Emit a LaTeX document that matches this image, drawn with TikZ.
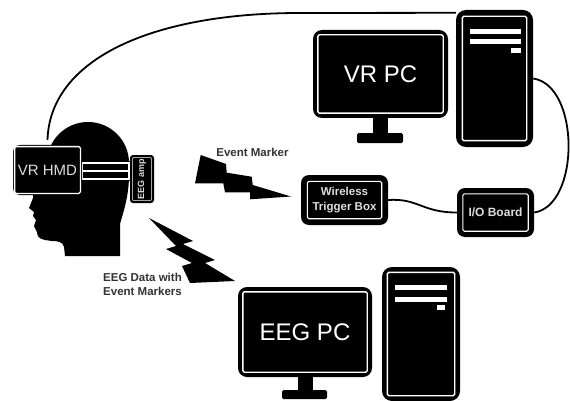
\documentclass[tikz,border=0pt]{standalone}
\usepackage{fontspec}
\setmainfont{Liberation Sans}
\usetikzlibrary{calc}
\definecolor{lbltext}{HTML}{333333}
\definecolor{boxtext}{HTML}{DDDDDD}
% white frame drawn inside a black node, #2 = inset
\newcommand\inframe[3][1.4pt]{%
  \draw[white, line width=#1, rounded corners=1.5pt]
    ($(#2.south west)+(#3,-#3)$) rectangle ($(#2.north east)+(-#3,#3)$);}
\begin{document}
\begin{tikzpicture}[x=1pt,y=-1pt,
  blk/.style={fill=black, draw=none, inner sep=0pt},
  screen/.style={blk, rounded corners=9pt, text=white,
    font=\fontsize{24}{24}\selectfont},
  tower/.style={blk, rounded corners=10pt},
  devbox/.style={blk, rounded corners=8pt, text=boxtext, align=center,
    font=\bfseries\fontsize{11.5}{14.5}\selectfont},
  lbl/.style={text=lbltext, inner sep=0pt,
    font=\bfseries\fontsize{11.5}{14}\selectfont},
  bar/.style={fill=white, draw=none},
  cable/.style={draw=black, line width=1.8pt}]
\useasboundingbox (0,0) rectangle (570,401);

% ---------- head ----------
\fill (88,163) circle[radius=41pt];
\fill (50,150) -- (128,158) -- (129,175)
  .. controls (129,195) and (124,210) .. (120,224) -- (120,256) -- (65,256)
  -- (64,247) .. controls (63,242) and (58,241) .. (52,241) -- (45,240)
  .. controls (39,239) and (37,236) .. (37,232) -- (34,226) -- (36,220)
  -- (33,216) -- (34,212) -- (29,208) -- (33,198) -- (33,160) -- cycle;

% head strap
\fill (80,161) rectangle (131,181);
\draw[white, line width=1.2pt] (82,163) rectangle (129,179);
\draw[white, line width=1.2pt] (82,171) -- (129,171);

% VR headset
\node[blk, rounded corners=7pt, minimum width=69pt, minimum height=50pt,
  text=boxtext, font=\fontsize{15}{15}\selectfont] (hmd) at (47.5,170) {VR HMD};
\inframe[1.3pt]{hmd}{1.8}

% EEG amplifier, label reads upwards
\node[blk, rounded corners=3pt, minimum width=24pt, minimum height=48pt,
  text=boxtext, font=\bfseries\fontsize{9}{9}\selectfont]
  (amp) at (142,179) {\rotatebox{90}{EEG amp}};
\draw[gray!70, line width=0.8pt, rounded corners=1pt]
  (132.5,157.5) rectangle (151.5,200.5);

% ---------- VR PC ----------
\node[screen, minimum width=135pt, minimum height=88pt] (vrmon) at (380.5,74) {VR PC};
\inframe{vrmon}{5}
\fill ($(vrmon.south)+(-7.5,-1)$) rectangle ++(15,16);
\fill[rounded corners=1.5pt] ($(vrmon.south)+(-23.5,15)$) rectangle ++(46,10);

\node[tower, minimum width=77pt, minimum height=137pt] (vrtower) at (494.5,78.5) {};
\inframe{vrtower}{6.5}
\fill[bar] (470,29) rectangle (521,34);
\fill[bar] (470,39) rectangle (521,44);
\fill[bar] (511,48) rectangle (521,53);

% ---------- EEG PC ----------
\node[screen, minimum width=134pt, minimum height=90pt] (eegmon) at (305,332) {EEG PC};
\inframe{eegmon}{5}
\fill ($(eegmon.south)+(-7.5,-1)$) rectangle ++(15,14);
\fill[rounded corners=1.5pt] ($(eegmon.south)+(-23,13)$) rectangle ++(45,9);

\node[tower, minimum width=78pt, minimum height=134pt] (eegtower) at (421,334) {};
\inframe{eegtower}{5.5}
\fill[bar] (395,285) rectangle (447,290);
\fill[bar] (395,297) rectangle (447,302);
\fill[bar] (437,305) rectangle (445,309.5);

% ---------- trigger box and I/O board ----------
\node[devbox, minimum width=87pt, minimum height=50pt] (trig) at (344.5,200)
  {Wireless\\Trigger Box};
\inframe[1.1pt]{trig}{6.5}

\node[devbox, minimum width=77pt, minimum height=49pt,
  font=\bfseries\fontsize{12}{12}\selectfont] (iob) at (495.5,212.5) {I/O Board};
\inframe[1.1pt]{iob}{6}

% ---------- cables ----------
\coordinate (hmdtop) at ($(hmd.north)+(0,-5)$);
\coordinate (vrtop) at ($(vrtower.north west)+(0,3)$);
\coordinate (bend) at (300,13);
\draw[cable] (hmdtop) .. controls (50,60) and (150,13) .. (bend) -- (vrtop);
\draw[cable] (vrtower.east) .. controls ++(47,7) and ++(46,-7) .. (iob.east);
\draw[cable] (trig.east) .. controls ++(30,-2) and ++(-35,0) .. (iob.west);

% ---------- wireless links ----------
\fill (200.7,155) -- (226,164) -- (226.7,172.7) -- (251.7,176.7) -- (252.7,185)
  -- (291,196.5) -- (250,199.3) -- (250,192.3) -- (225,192.3) -- (223.3,183.3)
  -- (195,183.3) -- cycle;
\fill (149,218) -- (193,241) -- (183,244) -- (215,260) -- (205,263)
  -- (235,281) -- (190,283) -- (182,266) -- (192,263) -- (166,249)
  -- (176,246) -- cycle;

\node[lbl] (evlbl) at (252.5,152) {Event Marker};
\node[lbl, align=left, anchor=west] (eeglbl) at (103,284) {EEG Data with\\Event Markers};
\end{tikzpicture}
\end{document}
